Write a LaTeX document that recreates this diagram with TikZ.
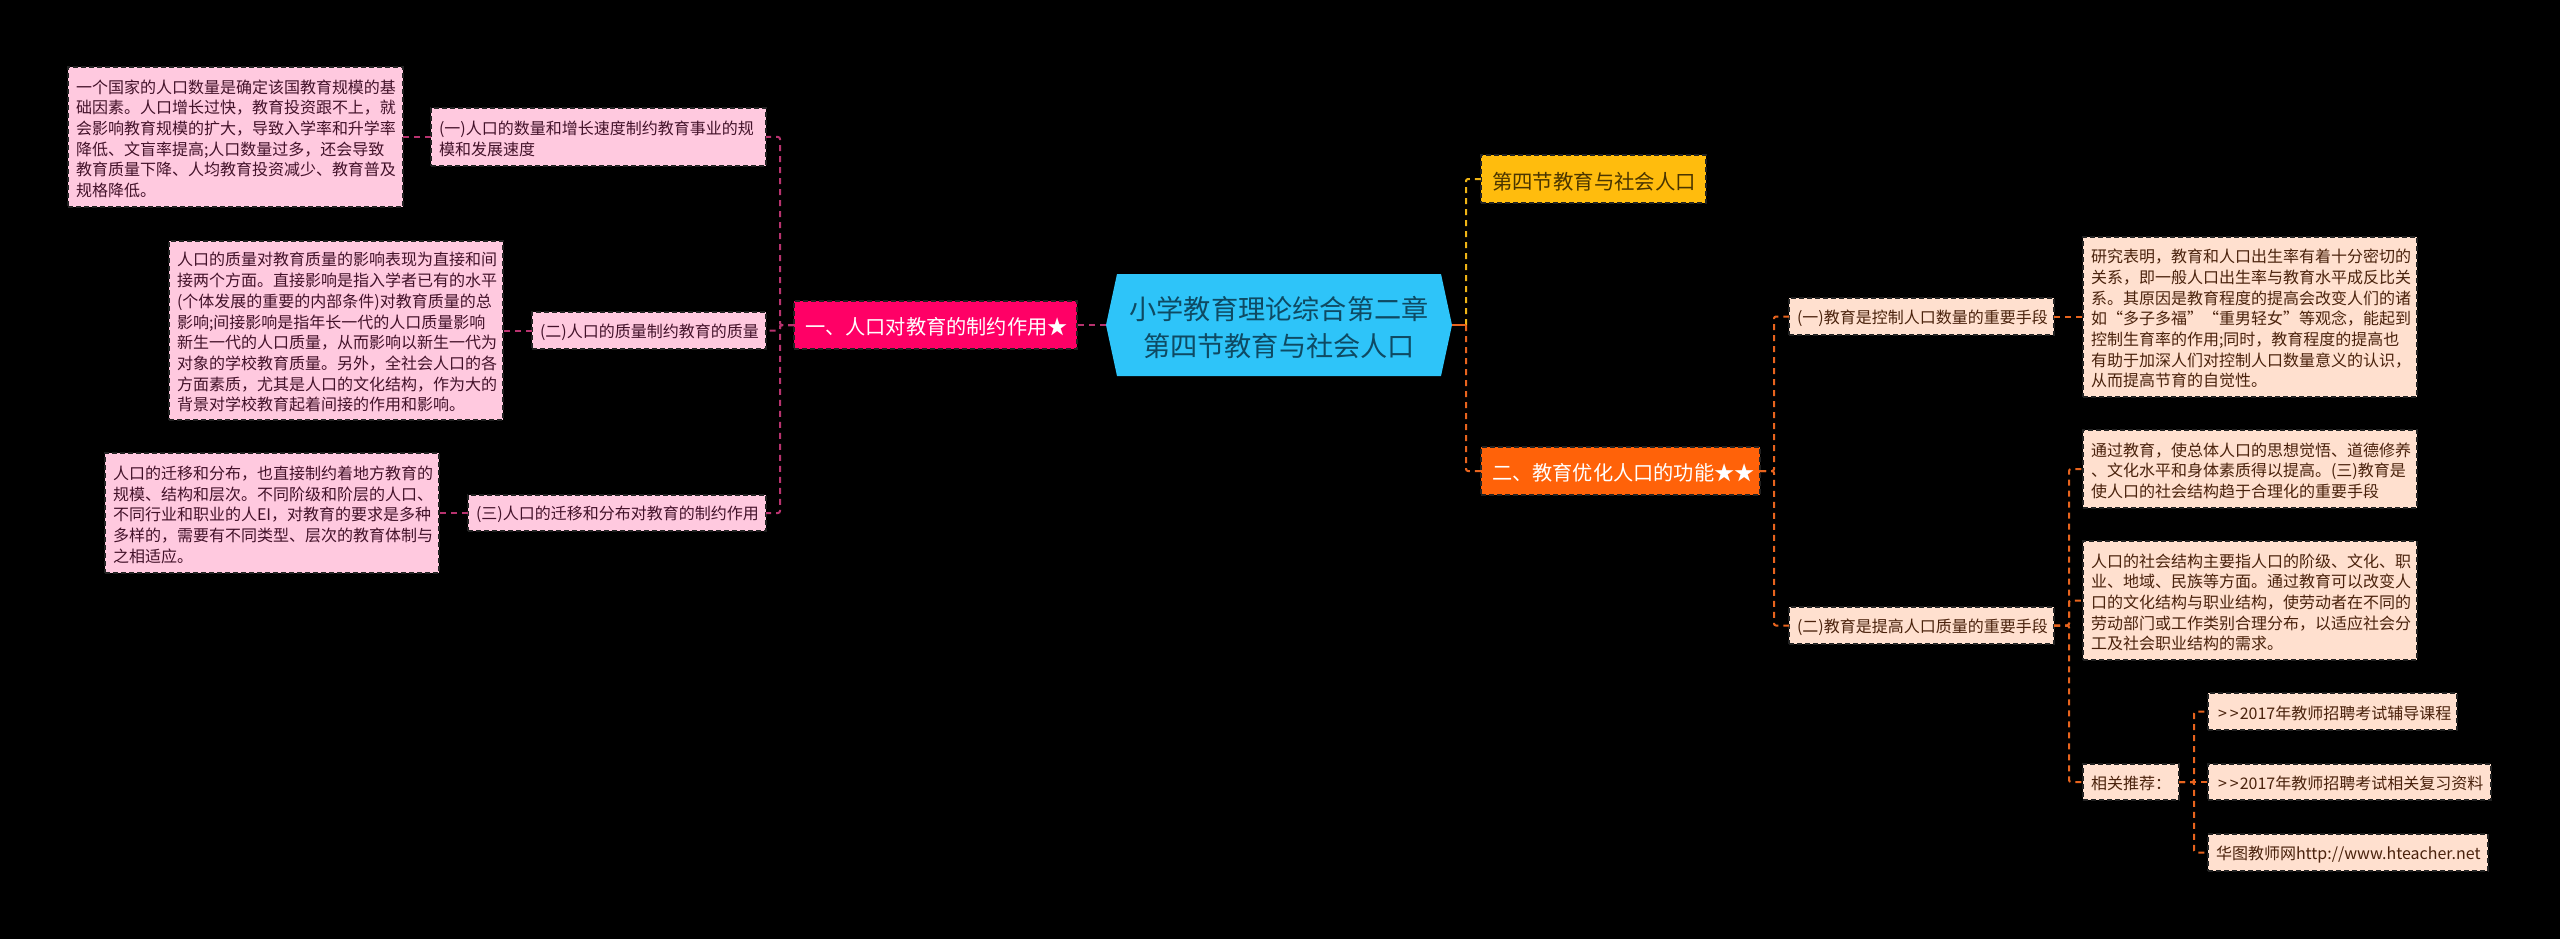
\documentclass[tikz,border=0pt]{standalone}
\usepackage{fontspec}
\setmainfont{Noto Sans CJK SC}
\definecolor{cPink}{HTML}{FFC9DF}
\definecolor{cPinkT}{HTML}{43122A}
\definecolor{cPeach}{HTML}{FFE0CF}
\definecolor{cPeachT}{HTML}{4A220C}
\definecolor{cMain}{HTML}{FF0066}
\definecolor{cYel}{HTML}{FFBC0D}
\definecolor{cYelT}{HTML}{4A3500}
\definecolor{cOra}{HTML}{FF6209}
\definecolor{cHex}{HTML}{2EC4F9}
\definecolor{cHexT}{HTML}{0E4A63}
\definecolor{cEdge}{HTML}{222222}
\definecolor{cLineL}{HTML}{B8336F}
\definecolor{cLineR}{HTML}{E8641E}
\definecolor{cLineY}{HTML}{EFB415}
\tikzset{
  boxbase/.style={anchor=north west,align=left,outer sep=0pt,inner ysep=0pt,inner xsep=8pt,
    line width=2pt,dash pattern=on 5pt off 3pt,draw=cEdge},
  pinkbox/.style={boxbase,fill=cPink,text=cPinkT,font=\fontsize{16}{20.7}\selectfont},
  peachbox/.style={boxbase,fill=cPeach,text=cPeachT,font=\fontsize{16}{20.7}\selectfont},
  mainbox/.style={boxbase,fill=cMain,text=white,font=\fontsize{20.2}{26}\selectfont},
  yelbox/.style={boxbase,fill=cYel,text=cYelT,font=\fontsize{20.4}{26}\selectfont},
  orabox/.style={boxbase,fill=cOra,text=white,font=\fontsize{20.2}{26}\selectfont},
  hextext/.style={anchor=center,align=center,text=cHexT,font=\fontsize{27.2}{37}\selectfont},
  lineL/.style={draw=cLineL,line width=2pt,dash pattern=on 6pt off 5pt,rounded corners=2pt},
  lineR/.style={draw=cLineR,line width=2pt,dash pattern=on 6pt off 5pt,rounded corners=2pt},
  lineY/.style={draw=cLineY,line width=2pt,dash pattern=on 6pt off 5pt,rounded corners=2pt},
}
\newcommand{\bx}[7]{\node[#6,minimum width={(#4-#2)*1pt},minimum height={(#5-#3)*1pt},text width={(#4-#2-16)*1pt}] (#1) at (#2,#3) {\rule{0pt}{1.07em}#7};}
\begin{document}
\begin{tikzpicture}[x=1pt,y=-1pt]
\fill[black] (0,0) rectangle (2560,939);
\useasboundingbox (0,0) rectangle (2560,939);
% centre
\fill[cHex] (1106,325) -- (1117,274) -- (1441,274) -- (1452,325) -- (1441,376) -- (1117,376) -- cycle;
\node[hextext,minimum width=346pt,minimum height=102pt,inner sep=0pt] (c) at (1279,325) {\rule{0pt}{1.07em}小学教育理论综合第二章\\第四节教育与社会人口};
% helper coordinates for the trunks
\coordinate (tL) at (780,0);
\coordinate (tC) at (1466,0);
\coordinate (tB) at (1774,0);
\coordinate (tD) at (2069,0);
\coordinate (tE) at (2194,0);
% level 1
\bx{m1}{794}{301}{1077}{349}{mainbox}{\kern3pt 一、人口对教育的制约作用★}
\bx{m2}{1481}{155}{1706}{203}{yelbox}{\kern3pt 第四节教育与社会人口}
\bx{m3}{1481}{447}{1760}{495}{orabox}{\kern3pt 二、教育优化人口的功能★★}
% left
\bx{a1}{431}{108}{766}{166}{pinkbox}{(一)人口的数量和增长速度制约教育事业的规\\模和发展速度}
\bx{a2}{532}{312}{766}{349}{pinkbox}{(二)人口的质量制约教育的质量}
\bx{a3}{468}{495}{766}{531}{pinkbox}{(三)人口的迁移和分布对教育的制约作用}
\bx{a1d}{68}{67}{403}{207}{pinkbox}{一个国家的人口数量是确定该国教育规模的基\\础因素。人口增长过快，教育投资跟不上，就\\会影响教育规模的扩大，导致入学率和升学率\\降低、文盲率提高;人口数量过多，还会导致\\教育质量下降、人均教育投资减少、教育普及\\规格降低。}
\bx{a2d}{169}{241}{503}{420}{pinkbox}{人口的质量对教育质量的影响表现为直接和间\\接两个方面。直接影响是指入学者已有的水平\\(个体发展的重要的内部条件)对教育质量的总\\影响;间接影响是指年长一代的人口质量影响\\新生一代的人口质量，从而影响以新生一代为\\对象的学校教育质量。另外，全社会人口的各\\方面素质，尤其是人口的文化结构，作为大的\\背景对学校教育起着间接的作用和影响。}
\bx{a3d}{105}{453}{439}{573}{pinkbox}{人口的迁移和分布，也直接制约着地方教育的\\规模、结构和层次。不同阶级和阶层的人口、\\不同行业和职业的人EI，对教育的要求是多种\\多样的，需要有不同类型、层次的教育体制与\\之相适应。}
% right
\bx{b1}{1789}{298}{2054}{335}{peachbox}{(一)教育是控制人口数量的重要手段}
\bx{b2}{1789}{607}{2054}{644}{peachbox}{(二)教育是提高人口质量的重要手段}
\bx{b1d}{2083}{237}{2417}{397}{peachbox}{研究表明，教育和人口出生率有着十分密切的\\关系，即一般人口出生率与教育水平成反比关\\系。其原因是教育程度的提高会改变人们的诸\\如“多子多福”“重男轻女”等观念，能起到\\控制生育率的作用;同时，教育程度的提高也\\有助于加深人们对控制人口数量意义的认识，\\从而提高节育的自觉性。}
\bx{b2a}{2083}{430}{2417}{508}{peachbox}{通过教育，使总体人口的思想觉悟、道德修养\\、文化水平和身体素质得以提高。(三)教育是\\使人口的社会结构趋于合理化的重要手段}
\bx{b2b}{2083}{541}{2417}{660}{peachbox}{人口的社会结构主要指人口的阶级、文化、职\\业、地域、民族等方面。通过教育可以改变人\\口的文化结构与职业结构，使劳动者在不同的\\劳动部门或工作类别合理分布，以适应社会分\\工及社会职业结构的需求。}
\bx{b2c}{2083}{764}{2179}{800}{peachbox}{相关推荐：}
\bx{l1}{2208}{693}{2457}{730}{peachbox}{\kern2pt>\kern3pt>\kern1pt2017年教师招聘考试辅导课程}
\bx{l2}{2208}{764}{2491}{800}{peachbox}{\kern2pt>\kern3pt>\kern1pt2017年教师招聘考试相关复习资料}
\bx{l3}{2208}{834}{2488}{871}{peachbox}{华图教师网http://www.hteacher.net}
% connectors
\draw[lineL] (c.west) -- (m1.east);
\draw[lineL] (m1.west) -- (tL |- m1.west) |- (a1.east);
\draw[lineL] (m1.west) -- (tL |- m1.west) |- (a2.east);
\draw[lineL] (m1.west) -- (tL |- m1.west) |- (a3.east);
\draw[lineL] (a1.west) -- (a1d.east |- a1.west);
\draw[lineL] (a2.west) -- (a2d.east |- a2.west);
\draw[lineL] (a3.west) -- (a3d.east |- a3.west);
\draw[lineY] (tC |- c.east) |- (m2.west);
\draw[lineR] (tC |- c.east) |- (m3.west);
\draw[cLineR,line width=2pt] (c.east) -- (tC |- c.east);
\draw[lineR] (m3.east) -- (tB |- m3.east) |- (b1.west);
\draw[lineR] (m3.east) -- (tB |- m3.east) |- (b2.west);
\draw[lineR] (b1.east) -- (b1d.west |- b1.east);
\draw[lineR] (b2.east) -- (tD |- b2.east) |- (b2a.west);
\draw[lineR] (b2.east) -- (tD |- b2.east) |- (b2b.west);
\draw[lineR] (b2.east) -- (tD |- b2.east) |- (b2c.west);
\draw[lineR] (b2c.east) -- (tE |- b2c.east) |- (l1.west);
\draw[lineR] (b2c.east) -- (l2.west);
\draw[lineR] (b2c.east) -- (tE |- b2c.east) |- (l3.west);
\end{tikzpicture}
\end{document}
